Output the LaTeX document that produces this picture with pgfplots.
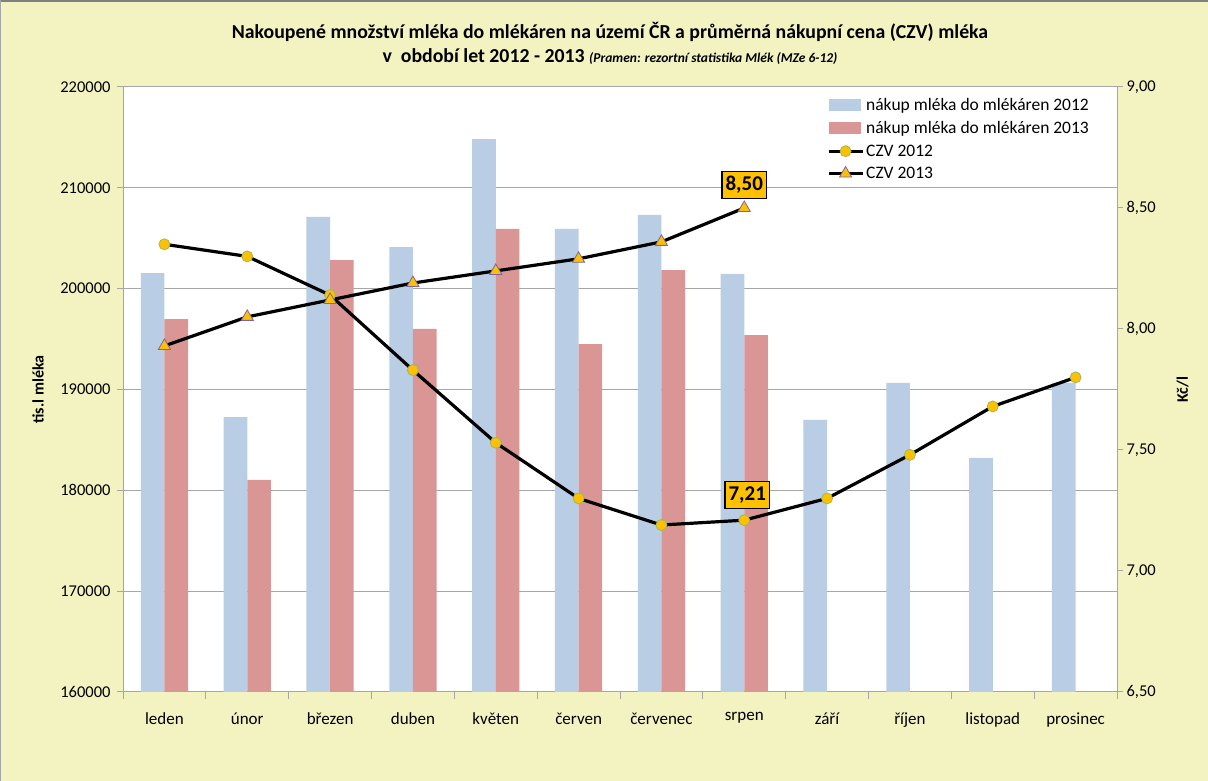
\documentclass[border=0pt]{standalone}
\usepackage{pgfplots}
\pgfplotsset{compat=1.18}
\usepackage{fontspec}
\setmainfont{Carlito}
\definecolor{bgy}{HTML}{F3F3C2}
\definecolor{c12}{HTML}{B9CDE5}
\definecolor{c13}{HTML}{D99694}
\definecolor{cY}{HTML}{FFC000}
\definecolor{cG}{HTML}{9BBB59}
\definecolor{cV}{HTML}{8064A2}
\definecolor{gridc}{HTML}{A6A6A6}
\pgfplotsset{
  barleg/.style={legend image code/.code={\fill[##1, draw=none] (0pt,-6pt) rectangle (32pt,6pt);}},
  lineleg/.style={legend image code/.code={\draw[mark repeat=2,mark phase=2,##1] plot coordinates {(0pt,0pt) (17pt,0pt) (34pt,0pt)};}},
}
\begin{document}
\begin{tikzpicture}
\useasboundingbox (0pt,0pt) rectangle (1208pt,781pt);
\fill[bgy] (0pt,0pt) rectangle (1208pt,781pt);
\draw[gray, line width=2pt] (0pt,780pt) -- (1208pt,780pt);
\draw[gray!70, line width=1pt] (0.5pt,0pt) -- (0.5pt,781pt);
\node[font=\fontsize{19.8}{23}\selectfont\bfseries] at (610pt,749pt) {Nakoupené množství mléka do mlékáren na území ČR a průměrná nákupní cena (CZV) mléka};
\node[font=\fontsize{19.8}{23}\selectfont\bfseries] at (610pt,724pt) {v\ \ období let 2012 - 2013 {\fontsize{13.5}{16}\selectfont\itshape (Pramen: rezortní statistika Mlék (MZe 6-12)}};

\begin{axis}[
  at={(123pt,89pt)}, anchor=south west, scale only axis,
  width=994pt, height=605pt,
  xmin=-0.5, xmax=11.5, ymin=160000, ymax=220000,
  ytick={160000,170000,...,220000},
  scaled y ticks=false,
  xtick={0,...,11},
  xticklabels={leden,únor,březen,duben,květen,červen,červenec,srpen,září,říjen,listopad,prosinec},
  minor xtick={-0.5,0.5,...,11.5},
  xtick pos=lower, ytick pos=left,
  tick align=outside,
  major x tick style={draw=none},
  minor tick length=7pt, major tick length=6pt,
  tick style={gridc, line width=1pt},
  axis line style={gridc, line width=1pt},
  ymajorgrids, grid style={gridc, line width=1pt},
  xticklabel style={font=\fontsize{17}{20}\selectfont, yshift=-11pt},
  yticklabel style={font=\fontsize{16.5}{19}\selectfont, xshift=-3pt,
    /pgf/number format/.cd, fixed, precision=0, 1000 sep={}, assume math mode=true},
  ylabel={\bfseries tis.l mléka},
  ylabel style={at={(axis description cs:-0.0855,0.5)}, anchor=center, font=\fontsize{16}{19}\selectfont},
  axis background/.style={fill=white},
]
\addplot[ybar, bar width=0.285, bar shift=-0.1425, fill=c12, draw=none] coordinates {
(0,201550) (1,187270) (2,207110) (3,204130) (4,214840) (5,205920)
(6,207310) (7,201460) (8,186980) (9,190650) (10,183210) (11,190650)};
\addplot[ybar, bar width=0.285, bar shift=0.1425, fill=c13, draw=none] coordinates {
(0,196990) (1,181030) (2,202840) (3,196000) (4,205920) (5,194510)
(6,201850) (7,195400)};
\end{axis}

\begin{axis}[
  at={(123pt,89pt)}, anchor=south west, scale only axis,
  width=994pt, height=605pt,
  xmin=-0.5, xmax=11.5, ymin=6.5, ymax=9,
  axis x line=none, axis y line*=right,
  ytick={6.5,7,...,9},
  tick align=outside, major tick length=6pt,
  tick style={gridc, line width=1pt},
  axis line style={gridc, line width=1pt},
  yticklabel style={font=\fontsize{16.5}{19}\selectfont,
    /pgf/number format/.cd, fixed, fixed zerofill, precision=2, use comma, assume math mode=true},
  ylabel={\bfseries Kč/l},
  ylabel style={at={(axis description cs:1.066,0.5)}, anchor=center, rotate=0, font=\fontsize{16}{19}\selectfont},
  legend style={at={(axis description cs:0.705,0.988)}, anchor=north west, draw=none, fill=none,
    font=\fontsize{17.5}{20}\selectfont, row sep=5.5pt, cells={anchor=west},
    /tikz/every even column/.append style={column sep=2pt}},
]
\addlegendimage{barleg, fill=c12, draw=none}
\addlegendentry{nákup mléka do mlékáren 2012}
\addlegendimage{barleg, fill=c13, draw=none}
\addlegendentry{nákup mléka do mlékáren 2013}
\addplot[lineleg, black, line width=3.2pt, mark=*, mark size=5.5pt,
  mark options={fill=cY, draw=cG, line width=0.8pt}] coordinates {
(0,8.35) (1,8.30) (2,8.14) (3,7.83) (4,7.53) (5,7.30)
(6,7.19) (7,7.21) (8,7.30) (9,7.48) (10,7.68) (11,7.80)};
\addlegendentry{CZV 2012}
\addplot[lineleg, black, line width=3.2pt, mark=triangle*, mark size=7pt,
  mark options={fill=cY, draw=cV, line width=0.8pt}] coordinates {
(0,7.93) (1,8.05) (2,8.12) (3,8.19) (4,8.24) (5,8.29) (6,8.36) (7,8.50)};
\addlegendentry{CZV 2013}
\node[fill=cY, draw=black, line width=1.2pt, inner xsep=3.5pt, inner ysep=5pt, font=\fontsize{21}{24}\selectfont\bfseries, yshift=23pt] at (axis cs:7,8.50) {8,50};
\node[fill=cY, draw=black, line width=1.2pt, inner xsep=3.5pt, inner ysep=5pt, font=\fontsize{21}{24}\selectfont\bfseries, yshift=25pt, xshift=3pt] at (axis cs:7,7.21) {7,21};
\end{axis}
\end{tikzpicture}
\end{document}
